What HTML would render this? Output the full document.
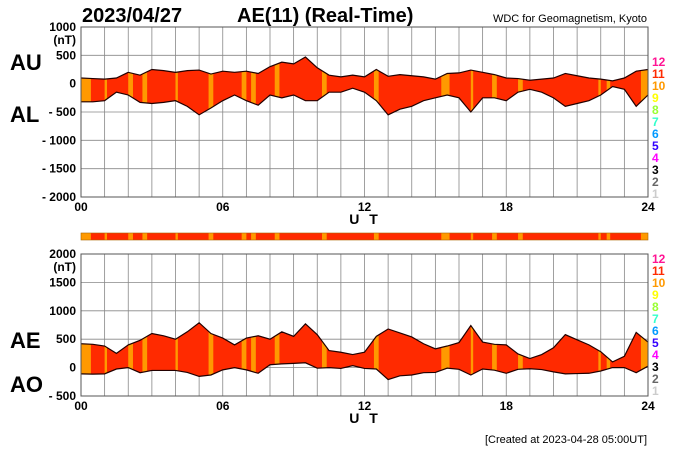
<!DOCTYPE html>
<html><head><meta charset="utf-8"><style>
body{margin:0;background:#fff;}
svg{display:block;font-family:"Liberation Sans",sans-serif;}
.t{font-weight:bold;}
</style></head><body>
<svg id="c" width="700" height="450" viewBox="0 0 700 450"></svg>
<script>
const hours=[0,0.5,1,1.5,2,2.5,3,3.5,4,4.5,5,5.5,6,6.5,7,7.5,8,8.5,9,9.5,10,10.5,11,11.5,12,12.5,13,13.5,14,14.5,15,15.5,16,16.5,17,17.5,18,18.5,19,19.5,20,20.5,21,21.5,22,22.5,23,23.5,24];
const auValues=[100,90,80,100,200,150,250,230,200,230,240,170,220,200,220,180,300,380,350,470,280,150,120,150,120,250,130,160,140,120,80,180,190,240,200,160,100,90,60,80,100,180,140,100,80,50,100,220,250];
const alValues=[-320,-320,-300,-150,-200,-330,-350,-330,-300,-400,-550,-430,-300,-200,-300,-380,-200,-250,-200,-300,-300,-150,-150,-80,-150,-300,-550,-450,-400,-300,-250,-200,-250,-500,-250,-250,-300,-150,-100,-150,-250,-400,-350,-300,-200,-50,-100,-400,-200];
const orangeSpans=[[0,0.42],[1.0,1.1],[2.0,2.2],[2.6,2.8],[4.0,4.1],[5.4,5.6],[6.8,7.0],[7.2,7.4],[8.2,8.4],[10.2,10.4],[12.4,12.6],[15.25,15.6],[16.5,16.6],[17.4,17.6],[18.5,18.7],[21.9,22.0],[22.25,22.4],[23.7,24]];
const topTicks=[1000,500,0,-500,-1000,-1500,-2000];
const botTicks=[2000,1500,1000,500,0,-500];
const xTicks=["00","06","12","18","24"];
const stationLabels=["12","11","10","9","8","7","6","5","4","3","2","1"];
const stationColors=["#ff1493","#ff2a00","#ff9900","#ffff00","#99ff33","#33ffcc","#0099ff","#3300ff","#ff00ff","#000000","#666666","#cccccc"];

const svg=document.getElementById('c');
const NS='http://www.w3.org/2000/svg';
function mk(tag,attrs,parent){const e=document.createElementNS(NS,tag);for(const k in attrs)e.setAttribute(k,attrs[k]);(parent||svg).appendChild(e);return e;}
const X0=81,X1=648;
const xs=h=>X0+(X1-X0)*h/24;
function panel(id,yTop,yBot,vMax,vMin,upper,lower,ticks,l1,l2,l1y,l2y,lblTop){
  const ys=v=>yTop+(vMax-v)/(vMax-vMin)*(yBot-yTop);
  const g=mk('g',{});
  
  
  for(let h=0;h<=24;h++){const l=mk('line',{x1:xs(h),x2:xs(h),y1:yTop,y2:yBot,stroke:'#888','stroke-width':0.8},g);}
  for(let v=vMin;v<=vMax;v+=500){const l=mk('line',{x1:X0,x2:X1,y1:ys(v),y2:ys(v),stroke:'#888','stroke-width':0.8},g);}
  let d='M'+hours.map((h,i)=>xs(h)+','+ys(upper[i])).join(' L');
  d+=' L'+hours.slice().reverse().map((h,i)=>xs(h)+','+ys(lower[hours.length-1-i])).join(' L')+'Z';
  const cp=mk('clipPath',{id:'cp'+id},g);mk('path',{d:d},cp);
  const band=mk('path',{d:d,fill:'#ff2a00'},g);
  
  
  orangeSpans.forEach(s=>{const r=mk('rect',{x:xs(s[0]),y:yTop,width:xs(s[1])-xs(s[0]),height:yBot-yTop,fill:'#ff9900','clip-path':'url(#cp'+id+')'},g);});
  const up=mk('polyline',{points:hours.map((h,i)=>xs(h)+','+ys(upper[i])).join(' '),fill:'none',stroke:'#200',"stroke-width":1.2},g);
  
  const lo=mk('polyline',{points:hours.map((h,i)=>xs(h)+','+ys(lower[i])).join(' '),fill:'none',stroke:'#200',"stroke-width":1.2},g);
  
  mk('rect',{x:X0,y:yTop,width:X1-X0,height:yBot-yTop,fill:'none',stroke:'#555','stroke-width':1},g);
  ticks.forEach((v,i)=>{const t=mk('text',{x:76,y:ys(v)+4,'text-anchor':'end','font-size':12,class:'t'},g);t.textContent=(v<0?'- '+(-v):v);});
  const nt=mk('text',{x:76,y:ys(ticks[0])+17,'text-anchor':'end','font-size':12,class:'t'},g);nt.textContent='(nT)';
  
  xTicks.forEach((s,i)=>{const t=mk('text',{x:xs(i*6),y:yBot+14,'text-anchor':'middle','font-size':12,class:'t'},g);t.textContent=s;});
  const ut=mk('text',{x:365,y:yBot+27,'text-anchor':'middle','font-size':14,class:'t','letter-spacing':'3'},g);ut.textContent='U T';
  
  const a=mk('text',{x:10,y:l1y,'font-size':22,class:'t'},g);a.textContent=l1;
  const b=mk('text',{x:10,y:l2y,'font-size':22,class:'t'},g);b.textContent=l2;
  stationLabels.forEach((s,i)=>{const t=mk('text',{x:652,y:lblTop+i*12,'font-size':12,class:'t',fill:stationColors[i]},g);t.textContent=s;});
}
const aeValues=auValues.map((v,i)=>v-alValues[i]);
const aoValues=auValues.map((v,i)=>(v+alValues[i])/2);
panel('top',27,197,1000,-2000,auValues,alValues,topTicks,'AU','AL',70,122,66);
panel('bottom',254,396,2000,-500,aeValues,aoValues,botTicks,'AE','AO',348,392,263);
const st=mk('g',{});
mk('rect',{x:X0,y:233,width:X1-X0,height:7,fill:'#ff2a00'},st);
orangeSpans.forEach(s=>{const r=mk('rect',{x:xs(s[0]),y:233,width:xs(s[1])-xs(s[0]),height:7,fill:'#ff9900'},st);});
mk('rect',{x:X0,y:233,width:X1-X0,height:7,fill:'none',stroke:'#aa6600','stroke-width':0.6},st);
const t1=mk('text',{x:82,y:22,'font-size':20,class:'t'});t1.textContent='2023/04/27';
const t2=mk('text',{x:237,y:22,'font-size':20,class:'t'});t2.textContent='AE(11) (Real-Time)';
const t3=mk('text',{x:647,y:22,'font-size':11,'text-anchor':'end'});t3.textContent='WDC for Geomagnetism, Kyoto';
const t4=mk('text',{x:647,y:443,'font-size':11,'text-anchor':'end'});t4.textContent='[Created at 2023-04-28 05:00UT]';
</script>
</body></html>
